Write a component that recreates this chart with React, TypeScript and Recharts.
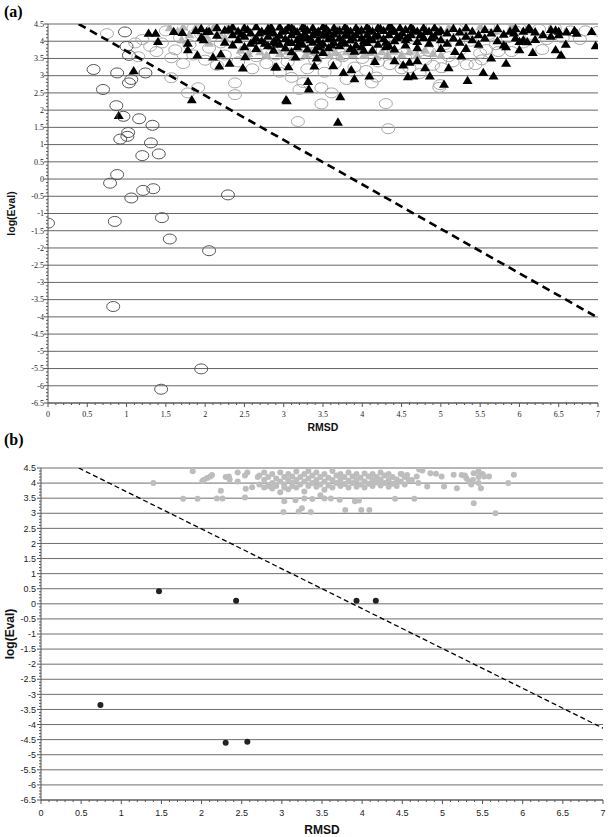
import React from 'react';
import { ScatterChart, Scatter, XAxis, YAxis, CartesianGrid, Label } from 'recharts';

// ---- data ----
const X_MAJOR_TICKS = [0, 0.5, 1, 1.5, 2, 2.5, 3, 3.5, 4, 4.5, 5, 5.5, 6, 6.5, 7];
const Y_MAJOR_TICKS = [-6.5, -6, -5.5, -5, -4.5, -4, -3.5, -3, -2.5, -2, -1.5, -1, -0.5, 0, 0.5, 1, 1.5, 2, 2.5, 3, 3.5, 4, 4.5];

// panel (a)
const A_DARK_CIRCLES = [
  [0, -1.28], [0.58, 3.18], [0.7, 2.6], [0.87, 2.13], [0.96, 1.82], [1.02, 1.35], [1.01, 1.24], [0.92, 1.16],
  [1.16, 1.75], [1.33, 1.56], [1.31, 1.05], [1.2, 0.68], [1.41, 0.73], [0.79, -0.12], [0.88, 0.13], [1.34, -0.28],
  [1.21, -0.33], [1.06, -0.55], [2.29, -0.46], [0.85, -1.23], [1.45, -1.12], [1.55, -1.74], [2.05, -2.08],
  [0.83, -3.7], [1.95, -5.51], [1.44, -6.1], [0.98, 4.27], [1.0, 3.85], [1.03, 3.59], [0.88, 3.08], [1.06, 2.89],
  [1.03, 2.79], [1.24, 3.08],
];

const A_LIGHT_CIRCLES = [
  [0.75, 4.22], [1.11, 3.95], [1.15, 3.55], [1.2, 4.05], [1.3, 3.85], [1.38, 3.7], [1.45, 3.95], [1.5, 4.3],
  [1.57, 3.52], [1.57, 2.94], [1.62, 3.75], [1.68, 4.1], [1.72, 3.35], [1.78, 2.5], [1.8, 3.9], [1.85, 3.6],
  [1.91, 2.65], [1.95, 4.2], [2.0, 3.45], [2.05, 3.8], [2.1, 4.35], [2.15, 3.3], [2.2, 3.95], [2.25, 3.6],
  [2.38, 2.79], [2.38, 2.45], [2.35, 4.1], [2.42, 3.4], [2.5, 3.7], [2.55, 4.38], [2.6, 3.2], [2.65, 3.55],
  [2.7, 3.9], [2.78, 3.35], [2.82, 4.25], [2.9, 3.6], [2.95, 3.1], [3.0, 3.85], [3.05, 3.4], [3.1, 2.95],
  [3.15, 4.35], [3.18, 1.67], [3.2, 2.6], [3.25, 2.8], [3.22, 3.6], [3.3, 3.2], [3.35, 3.95], [3.4, 3.45],
  [3.48, 2.65], [3.48, 2.18], [3.52, 3.1], [3.55, 3.75], [3.61, 2.5], [3.65, 3.35], [3.7, 4.3], [3.75, 3.55],
  [3.8, 2.89], [3.85, 3.8], [3.9, 3.25], [3.95, 4.0], [4.0, 3.5], [4.05, 3.15], [4.1, 3.75], [4.12, 2.79],
  [4.18, 2.96], [4.2, 3.4], [4.25, 4.38], [4.3, 2.19], [4.33, 1.46], [4.35, 3.32], [4.4, 3.6], [4.45, 3.9],
  [4.5, 3.2], [4.55, 3.5], [4.6, 3.23], [4.65, 3.8], [4.73, 3.06], [4.75, 4.2], [4.8, 3.45], [4.85, 3.7],
  [4.9, 3.3], [4.98, 2.66], [4.99, 2.74], [5.01, 3.23], [5.05, 3.9], [5.1, 3.55], [5.15, 3.4], [5.2, 4.35],
  [5.25, 3.75], [5.33, 3.32], [5.38, 4.0], [5.44, 3.32], [5.5, 3.65], [5.52, 3.46], [5.58, 3.76], [5.62, 4.2],
  [5.7, 3.9], [5.73, 3.7], [5.8, 4.38], [5.85, 4.1], [5.9, 3.7], [5.95, 4.3], [6.0, 4.38], [6.05, 3.95],
  [6.15, 4.2], [6.25, 4.35], [6.29, 3.76], [6.35, 4.05], [6.45, 4.38], [6.55, 4.1], [6.65, 4.3], [6.77, 4.05],
  [6.84, 4.3], [7.0, 4.29], [3.45, 4.4], [2.2, 4.42], [1.85, 4.38], [4.05, 4.42], [4.9, 4.42], [5.6, 4.42],
  [3.0, 4.42], [2.65, 4.2], [3.6, 4.1], [4.4, 4.15], [5.3, 4.2],
];

const A_GRAY_TRIANGLES = [
  [1.55, 4.4], [1.65, 4.3], [1.72, 4.42], [1.8, 4.2], [1.88, 4.4], [1.95, 4.28], [2.02, 4.15], [2.1, 4.38],
  [2.18, 4.25], [2.25, 4.1], [2.3, 4.4], [2.4, 4.28], [2.45, 3.75], [2.55, 3.65], [2.6, 4.0], [2.7, 3.7],
  [2.78, 3.6], [2.85, 3.85], [2.95, 3.65], [3.05, 3.72], [3.12, 3.55], [3.2, 3.8], [3.28, 3.62], [3.35, 3.7],
  [3.42, 3.58], [3.5, 3.75], [3.58, 3.6], [3.66, 3.68], [3.72, 3.55], [3.8, 3.7], [3.88, 3.62], [3.95, 3.75],
  [4.02, 3.6], [4.1, 3.68], [4.18, 3.55], [4.25, 3.7], [4.32, 3.62], [4.4, 3.72], [4.5, 3.62], [4.6, 3.7],
  [4.7, 3.6], [4.8, 3.75], [4.9, 3.65], [5.0, 3.6], [5.1, 4.4], [5.3, 4.3], [5.5, 4.42], [5.7, 4.3],
  [5.9, 4.42], [6.1, 4.35], [2.05, 3.95], [1.7, 4.05],
];

const A_BLACK_TRIANGLES = [
  [0.9, 1.85], [1.09, 3.15], [1.28, 4.24], [1.37, 4.24], [1.4, 4.0], [1.6, 4.29], [1.71, 4.26], [1.78, 3.95],
  [1.78, 3.76], [1.9, 3.61], [1.98, 4.05], [2.1, 3.55], [2.18, 3.29], [2.2, 3.64], [2.31, 3.37], [2.48, 3.23],
  [2.51, 3.56], [1.83, 2.31], [3.03, 2.31], [2.89, 3.26], [3.06, 3.27], [3.15, 3.55], [1.88, 4.32], [2.02, 4.29],
  [2.3, 4.35], [2.8, 4.3],
  [1.95, 4.38], [1.95, 4.12], [2.05, 4.3], [2.15, 4.41], [2.15, 4.18], [2.25, 4.33], [2.25, 3.98], [2.35, 4.42],
  [2.35, 4.2], [2.35, 3.9], [2.42, 4.3], [2.42, 4.05], [2.5, 4.4], [2.5, 4.15], [2.5, 3.85], [2.58, 4.25],
  [2.58, 3.95], [2.65, 4.43], [2.65, 4.1], [2.65, 3.8], [2.72, 4.3], [2.72, 4.02], [2.8, 4.38], [2.8, 4.15],
  [2.8, 3.88], [2.87, 4.25], [2.87, 4.0], [2.87, 3.75], [2.95, 4.42], [2.95, 4.18], [2.95, 3.92], [3.02, 4.32],
  [3.02, 4.08], [3.02, 3.82], [3.1, 4.4], [3.1, 4.2], [3.1, 3.97], [3.1, 3.7], [3.17, 4.28], [3.17, 4.05],
  [3.17, 3.85], [3.24, 4.42], [3.24, 4.15], [3.24, 3.92], [3.3, 4.33], [3.3, 4.1], [3.3, 3.78], [3.37, 4.4],
  [3.37, 4.2], [3.37, 3.98], [3.44, 4.3], [3.44, 4.05], [3.44, 3.85], [3.5, 4.43], [3.5, 4.18], [3.5, 3.95],
  [3.5, 3.68], [3.57, 4.3], [3.57, 4.08], [3.57, 3.82], [3.64, 4.4], [3.64, 4.22], [3.64, 3.97], [3.71, 4.32],
  [3.71, 4.1], [3.71, 3.88], [3.78, 4.42], [3.78, 4.18], [3.78, 3.95], [3.85, 4.3], [3.85, 4.05], [3.85, 3.8],
  [3.92, 4.4], [3.92, 4.2], [3.92, 3.9], [3.99, 4.33], [3.99, 4.1], [3.99, 3.85], [4.06, 4.42], [4.06, 4.2],
  [4.06, 3.97], [4.13, 4.3], [4.13, 4.05], [4.13, 3.75], [4.2, 4.4], [4.2, 4.18], [4.2, 3.92], [4.27, 4.32],
  [4.27, 4.08], [4.34, 4.42], [4.34, 4.2], [4.34, 3.88], [4.41, 4.3], [4.41, 4.02], [4.41, 3.78], [4.48, 4.4],
  [4.48, 4.15], [4.55, 4.35], [4.55, 4.05], [4.55, 3.9], [4.62, 4.42], [4.62, 4.2], [4.7, 4.3], [4.7, 4.0],
  [4.7, 3.82], [4.78, 4.4], [4.78, 4.12], [4.85, 4.3], [4.85, 3.95], [4.92, 4.4], [4.92, 4.15], [5.0, 4.32],
  [5.0, 4.05], [5.0, 3.8], [5.08, 4.25], [5.08, 3.95], [5.16, 4.38], [5.16, 4.1], [5.24, 4.28], [5.24, 3.98],
  [5.32, 4.4], [5.32, 4.15], [5.4, 4.3], [5.4, 4.05], [5.48, 4.2], [5.48, 3.92], [5.56, 4.35], [5.56, 4.1],
  [5.64, 4.25], [5.72, 4.38], [5.72, 4.02], [5.8, 4.21], [5.8, 3.9], [5.88, 4.3], [5.95, 4.38], [5.95, 4.1],
  [6.05, 4.3], [6.05, 4.05], [6.12, 4.4], [6.2, 4.28], [6.2, 4.06], [6.3, 4.2], [6.4, 4.35], [6.4, 4.15],
  [6.5, 4.3], [6.5, 4.2], [6.6, 4.28], [6.7, 4.32],
  [2.46, 4.22], [2.54, 4.35], [2.62, 4.02], [2.69, 4.25], [2.76, 3.95], [2.84, 4.42], [2.91, 4.1], [2.98, 4.3],
  [3.06, 4.0], [3.13, 4.35], [3.2, 4.12], [3.27, 4.38], [3.34, 4.05], [3.41, 4.25], [3.47, 3.9], [3.54, 4.38],
  [3.61, 4.12], [3.68, 4.3], [3.75, 4.02], [3.81, 4.35], [3.88, 4.12], [3.95, 4.3], [4.02, 4.02], [4.09, 4.35],
  [4.16, 4.15], [4.23, 4.38], [4.3, 3.98], [4.37, 4.3], [4.44, 4.12], [4.51, 4.25], [4.58, 4.12], [4.65, 4.35],
  [4.74, 4.2], [4.81, 4.3], [4.88, 4.12], [4.96, 4.28], [3.06, 4.42], [3.27, 4.22], [3.54, 4.22], [3.81, 4.2],
  [4.09, 4.1], [4.37, 4.42], [3.2, 3.95], [3.61, 3.9], [4.02, 3.75], [2.9, 3.95], [3.4, 3.75], [3.9, 3.72],
  [4.3, 3.85],
  [3.31, 2.84], [3.32, 2.62], [3.72, 2.4], [3.69, 1.66], [3.9, 2.92], [4.09, 3.0], [4.58, 2.98], [4.65, 3.0],
  [4.86, 3.0], [5.04, 2.76], [5.34, 2.87], [5.54, 3.1], [5.67, 3.0], [5.83, 3.37], [5.64, 3.52], [5.1, 3.24],
  [4.8, 3.24], [4.7, 3.44], [4.52, 3.32], [4.41, 3.44], [4.16, 3.42], [3.86, 3.18], [3.76, 3.1], [3.63, 3.3],
  [3.39, 3.29], [3.42, 3.52], [5.18, 3.71], [5.26, 3.58], [5.83, 3.85], [6.0, 3.76], [6.17, 3.68], [6.46, 3.76],
  [6.53, 3.61], [6.97, 3.88], [6.92, 4.29], [6.0, 4.0], [6.1, 3.99], [6.59, 3.92], [6.73, 4.24], [6.46, 4.33],
  [6.14, 4.34], [5.93, 4.25], [5.32, 3.8], [3.04, 2.28], [2.91, 3.26], [4.6, 3.4],
];

const A_CUTOFF_LINE = [[0.39, 4.5], [6.98, -4.0]];

// panel (b)
const B_GRAY_DOTS = [
  [1.4, 4.0], [1.89, 4.39], [1.77, 3.48], [1.95, 3.48], [2.03, 4.11], [2.07, 4.17], [2.11, 4.22], [2.13, 4.27],
  [2.01, 4.07], [2.19, 3.49], [2.26, 3.49], [2.24, 3.75], [2.3, 4.2], [2.34, 4.22], [2.35, 4.12], [2.45, 4.35],
  [2.57, 4.35], [2.45, 4.05], [2.54, 3.52], [2.55, 3.81], [2.63, 3.86], [2.54, 4.25], [2.7, 4.2],
  [3.02, 3.04], [3.21, 3.06], [3.25, 3.17], [3.36, 3.04], [3.03, 3.4], [3.17, 3.43], [3.28, 3.49], [3.38, 3.47],
  [3.53, 3.49], [3.61, 3.49], [3.79, 3.11], [3.99, 3.11], [4.09, 3.11], [3.72, 3.45], [3.91, 3.4], [3.96, 3.42],
  [4.41, 3.48], [4.65, 3.48], [4.81, 3.89], [4.71, 4.45], [4.75, 4.42], [4.68, 4.22], [4.85, 4.33], [4.92, 4.31],
  [4.49, 4.3], [4.56, 4.27], [5.02, 3.89], [4.99, 4.22], [5.14, 4.28], [5.18, 3.83], [5.24, 4.27], [5.28, 4.25],
  [5.3, 4.15], [5.33, 4.05], [5.36, 3.95], [5.38, 4.1], [5.45, 4.0], [5.45, 4.2], [5.5, 4.3], [5.52, 4.22],
  [5.58, 4.22], [5.39, 3.33], [5.48, 3.83], [5.66, 3.0], [5.82, 4.0], [5.89, 4.28], [5.39, 4.33], [5.45, 4.38],
  [4.62, 4.1], [4.7, 4.0],
  [2.72, 4.25], [2.72, 3.95], [2.78, 4.1], [2.78, 3.85], [2.78, 4.35], [2.83, 4.2], [2.83, 3.9], [2.88, 4.3],
  [2.88, 4.0], [2.88, 3.82], [2.93, 4.15], [2.93, 3.9], [2.98, 4.35], [2.98, 4.05], [2.98, 3.7], [3.03, 4.2],
  [3.03, 3.95], [3.03, 3.85], [3.08, 4.3], [3.08, 4.1], [3.08, 3.8], [3.13, 4.0], [3.13, 3.9], [3.13, 4.22],
  [3.18, 4.38], [3.18, 4.1], [3.18, 3.85], [3.23, 4.2], [3.23, 3.95], [3.28, 4.3], [3.28, 4.05], [3.28, 3.72],
  [3.33, 4.15], [3.33, 3.9], [3.33, 4.4], [3.38, 4.25], [3.38, 4.0], [3.43, 4.35], [3.43, 4.1], [3.43, 3.88],
  [3.48, 4.2], [3.48, 3.95], [3.48, 3.6], [3.53, 4.3], [3.53, 4.05], [3.53, 3.78], [3.58, 4.18], [3.58, 3.92],
  [3.63, 4.4], [3.63, 4.1], [3.63, 3.85], [3.68, 4.25], [3.68, 4.0], [3.73, 4.3], [3.73, 4.12], [3.73, 3.9],
  [3.78, 4.2], [3.78, 3.97], [3.83, 4.35], [3.83, 4.08], [3.83, 3.85], [3.88, 4.22], [3.88, 4.0], [3.93, 4.3],
  [3.93, 4.1], [3.93, 3.88], [3.98, 4.18], [3.98, 3.95], [4.03, 4.32], [4.03, 4.05], [4.03, 3.85], [4.08, 4.22],
  [4.08, 3.98], [4.13, 4.3], [4.13, 4.1], [4.13, 3.9], [4.18, 4.2], [4.18, 4.02], [4.23, 4.35], [4.23, 4.12],
  [4.23, 3.92], [4.28, 4.25], [4.28, 4.0], [4.33, 4.3], [4.33, 4.1], [4.33, 3.88], [4.38, 4.2], [4.38, 3.98],
  [4.43, 4.12], [4.43, 3.9], [4.48, 4.3], [4.48, 4.05], [4.53, 4.2], [4.53, 3.95], [4.58, 4.1],
];

const B_BLACK_DOTS = [
  [0.74, -3.35], [1.47, 0.42], [2.43, 0.1], [3.93, 0.1], [4.17, 0.1], [2.3, -4.6], [2.57, -4.57],
];

const B_CUTOFF_LINE = [[0.47, 4.5], [7.0, -4.12]];

// ---- helpers ----
const toPts = (arr: number[][]) => arr.map(([x, y]) => ({ x, y }));
const MINOR_X = Array.from({ length: 71 }, (_, i) => i / 10);
const MINOR_Y = Array.from({ length: 111 }, (_, i) => (i - 65) / 10);
const isMajor = (v: number) => X_MAJOR_TICKS.includes(v) || Y_MAJOR_TICKS.includes(v);
const fmt = (v: number) => String(Number(v.toFixed(1)));

const SERIF = '"Liberation Serif", "DejaVu Serif", serif';
const SANS = '"Liberation Sans", Arial, sans-serif';

const OpenCircle = (stroke: string) => (p: any) => (
  <ellipse cx={p.cx} cy={p.cy} rx={6.5} ry={5} fill="none" stroke={stroke} strokeWidth={1} />
);
const Triangle = (fill: string) => (p: any) => (
  <polygon
    points={`${p.cx},${p.cy - 4.5} ${p.cx - 5},${p.cy + 3.8} ${p.cx + 5},${p.cy + 3.8}`}
    fill={fill}
  />
);
const Dot = (fill: string, r: number) => (p: any) => <circle cx={p.cx} cy={p.cy} r={r} fill={fill} />;
const NoMark = () => <g />;

const makeYTick = (font: string, size: number, gap: number) => (props: any) => {
  const { x, y, payload } = props;
  const major = isMajor(payload.value);
  return (
    <g>
      <line x1={x} x2={x - (major ? 4 : 2)} y1={y} y2={y} stroke="#555" strokeWidth={1} />
      {major && (
        <text x={x - gap} y={y + size * 0.35} textAnchor="end" fontFamily={font} fontSize={size} fill="#222">
          {fmt(payload.value)}
        </text>
      )}
    </g>
  );
};

const makeXTick = (font: string, size: number, drop: number) => (props: any) => {
  const { x, y, payload } = props;
  const major = isMajor(payload.value);
  return (
    <g>
      <line x1={x} x2={x} y1={y} y2={y + (major ? 4 : 2)} stroke="#555" strokeWidth={1} />
      {major && (
        <text x={x} y={y + drop} textAnchor="middle" fontFamily={font} fontSize={size} fill="#222">
          {fmt(payload.value)}
        </text>
      )}
    </g>
  );
};

const axisTitleX = (text: string, size: number, drop: number) => (props: any) => {
  const vb = props.viewBox;
  return (
    <text x={vb.x + vb.width / 2} y={vb.y + drop} textAnchor="middle" fontFamily={SANS} fontWeight="bold" fontSize={size} fill="#111">
      {text}
    </text>
  );
};

const axisTitleY = (text: string, size: number, cx: number) => (props: any) => {
  const vb = props.viewBox;
  const cy = vb.y + vb.height / 2;
  return (
    <text x={cx} y={cy} transform={`rotate(-90 ${cx} ${cy})`} textAnchor="middle" dominantBaseline="central" fontFamily={SANS} fontWeight="bold" fontSize={size} fill="#111">
      {text}
    </text>
  );
};

const PanelLabel = ({ text, top }: { text: string; top: number }) => (
  <div style={{ position: 'absolute', left: 4, top, fontFamily: SERIF, fontWeight: 'bold', fontSize: 16, lineHeight: '16px', color: '#000' }}>
    {text}
  </div>
);

export default function App() {
  return (
    <div style={{ position: 'absolute', left: 0, top: 0, width: 608, height: 837, background: '#fff', overflow: 'hidden' }}>
      <div style={{ position: 'absolute', left: 0, top: 0 }}>
        <ScatterChart width={608} height={440} margin={{ top: 24, right: 10, bottom: 0, left: 0 }}>
          <CartesianGrid vertical={false} horizontalValues={Y_MAJOR_TICKS} stroke="#666" strokeWidth={1} />
          <XAxis type="number" dataKey="x" domain={[0, 7]} ticks={MINOR_X} interval={0} height={37}
            tickSize={0} tickMargin={0} tick={makeXTick(SERIF, 8, 14)} stroke="#555" allowDataOverflow>
            <Label content={axisTitleX('RMSD', 10.5, 28)} />
          </XAxis>
          <YAxis type="number" dataKey="y" domain={[-6.5, 4.5]} ticks={MINOR_Y} interval={0} width={48}
            tickSize={0} tickMargin={0} tick={makeYTick(SERIF, 8, 4)} stroke="#555" allowDataOverflow>
            <Label content={axisTitleY('log(Eval)', 10.5, 11)} />
          </YAxis>
          <Scatter data={toPts(A_GRAY_TRIANGLES)} shape={Triangle('#b8b8b8')} isAnimationActive={false} />
          <Scatter data={toPts(A_LIGHT_CIRCLES)} shape={OpenCircle('#a8a8a8')} isAnimationActive={false} />
          <Scatter data={toPts(A_BLACK_TRIANGLES)} shape={Triangle('#000')} isAnimationActive={false} />
          <Scatter data={toPts(A_DARK_CIRCLES)} shape={OpenCircle('#555')} isAnimationActive={false} />
          <Scatter data={toPts(A_CUTOFF_LINE)} shape={NoMark} line={{ stroke: '#000', strokeWidth: 2.6, strokeDasharray: '8 5' }} isAnimationActive={false} />
        </ScatterChart>
      </div>
      <div style={{ position: 'absolute', left: 0, top: 440 }}>
        <ScatterChart width={608} height={397} margin={{ top: 28, right: 5, bottom: 0, left: 0 }}>
          <CartesianGrid vertical={false} horizontalValues={Y_MAJOR_TICKS} stroke="#6e6e6e" strokeWidth={1} />
          <XAxis type="number" dataKey="x" domain={[0, 7]} ticks={MINOR_X} interval={0} height={37}
            tickSize={0} tickMargin={0} tick={makeXTick(SANS, 9, 16)} stroke="#555" allowDataOverflow>
            <Label content={axisTitleX('RMSD', 12, 34)} />
          </XAxis>
          <YAxis type="number" dataKey="y" domain={[-6.5, 4.5]} ticks={MINOR_Y} interval={0} width={41}
            tickSize={0} tickMargin={0} tick={makeYTick(SANS, 9, 5)} stroke="#555" allowDataOverflow>
            <Label content={axisTitleY('log(Eval)', 12, 10)} />
          </YAxis>
          <Scatter data={toPts(B_GRAY_DOTS)} shape={Dot('#bdbdbd', 3)} isAnimationActive={false} />
          <Scatter data={toPts(B_BLACK_DOTS)} shape={Dot('#222', 3)} isAnimationActive={false} />
          <Scatter data={toPts(B_CUTOFF_LINE)} shape={NoMark} line={{ stroke: '#000', strokeWidth: 1.3, strokeDasharray: '5 3' }} isAnimationActive={false} />
        </ScatterChart>
      </div>
      <PanelLabel text="(a)" top={4} />
      <PanelLabel text="(b)" top={432} />
    </div>
  );
}
